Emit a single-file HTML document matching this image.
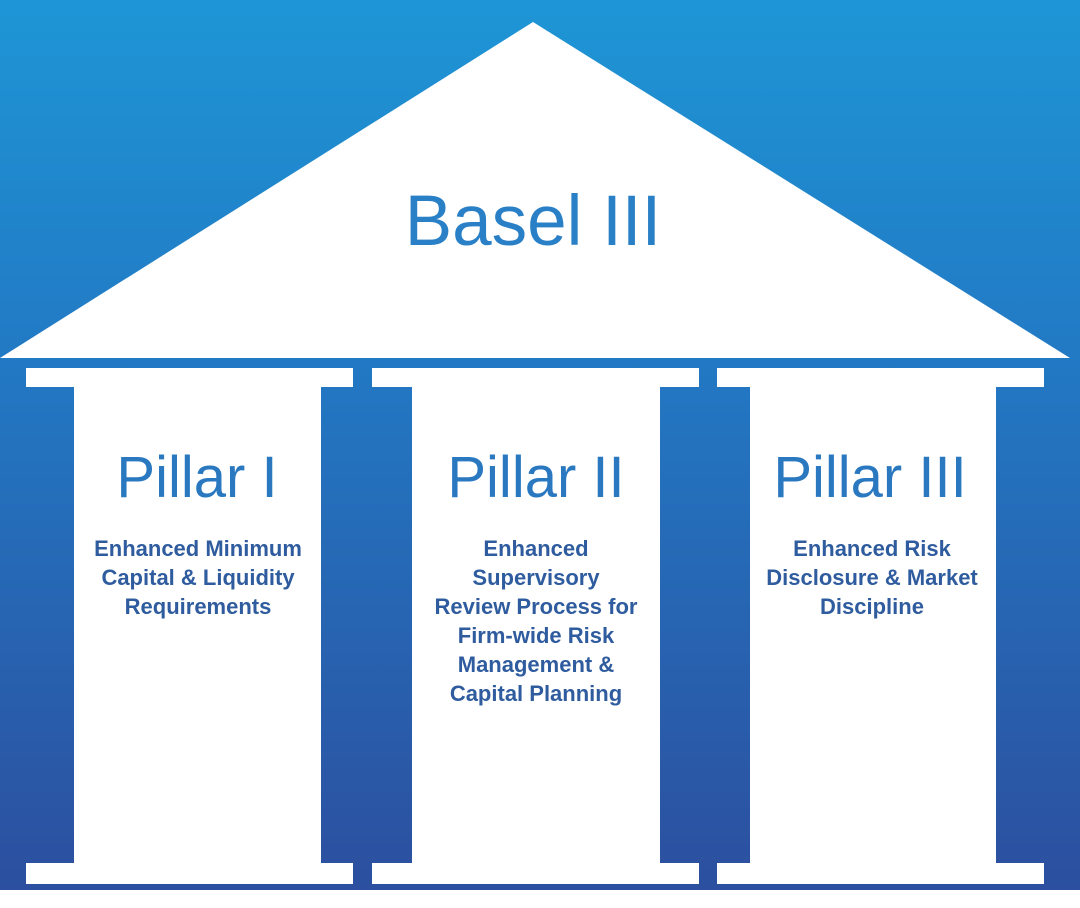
<!DOCTYPE html>
<html><head><meta charset="utf-8"><style>
html,body{margin:0;padding:0;background:#fff;}
svg{display:block;}
</style></head><body>
<svg width="1080" height="908" viewBox="0 0 1080 908" xmlns="http://www.w3.org/2000/svg">
<defs>
<linearGradient id="g" x1="0" y1="0" x2="0" y2="1">
<stop offset="0" stop-color="#1e96d6"/>
<stop offset="0.4" stop-color="#2279c4"/>
<stop offset="1" stop-color="#2c4f9f"/>
</linearGradient>
</defs>
<rect x="0" y="0" width="1080" height="890" fill="url(#g)"/>
<rect x="0" y="890" width="1080" height="18" fill="#fff"/>
<polygon points="0,358 533,22 1070,358" fill="#fff"/>
<g fill="#fff">
<rect x="26" y="368" width="327" height="19"/>
<rect x="74" y="386" width="247" height="478"/>
<rect x="26" y="863" width="327" height="21"/>
<rect x="372" y="368" width="327" height="19"/>
<rect x="412" y="386" width="248" height="478"/>
<rect x="372" y="863" width="327" height="21"/>
<rect x="717" y="368" width="327" height="19"/>
<rect x="750" y="386" width="246" height="478"/>
<rect x="717" y="863" width="327" height="21"/>
</g>
<g font-family="Liberation Sans, sans-serif" text-anchor="middle">
<text x="533" y="245" font-size="71" fill="#2a80c6">Basel III</text>
<text x="197" y="497" font-size="58" fill="#2a78c0">Pillar I</text>
<text x="536" y="497" font-size="58" fill="#2a78c0">Pillar II</text>
<text x="870" y="497" font-size="58" fill="#2a78c0">Pillar III</text>
<g font-size="22" font-weight="bold" fill="#2f5c9e">
<text x="198" y="556">Enhanced Minimum</text>
<text x="198" y="585">Capital &amp; Liquidity</text>
<text x="198" y="614">Requirements</text>
<text x="536" y="556">Enhanced</text>
<text x="536" y="585">Supervisory</text>
<text x="536" y="614">Review Process for</text>
<text x="536" y="643">Firm-wide Risk</text>
<text x="536" y="672">Management &amp;</text>
<text x="536" y="701">Capital Planning</text>
<text x="872" y="556">Enhanced Risk</text>
<text x="872" y="585">Disclosure &amp; Market</text>
<text x="872" y="614">Discipline</text>
</g>
</g>
</svg>
</body></html>
